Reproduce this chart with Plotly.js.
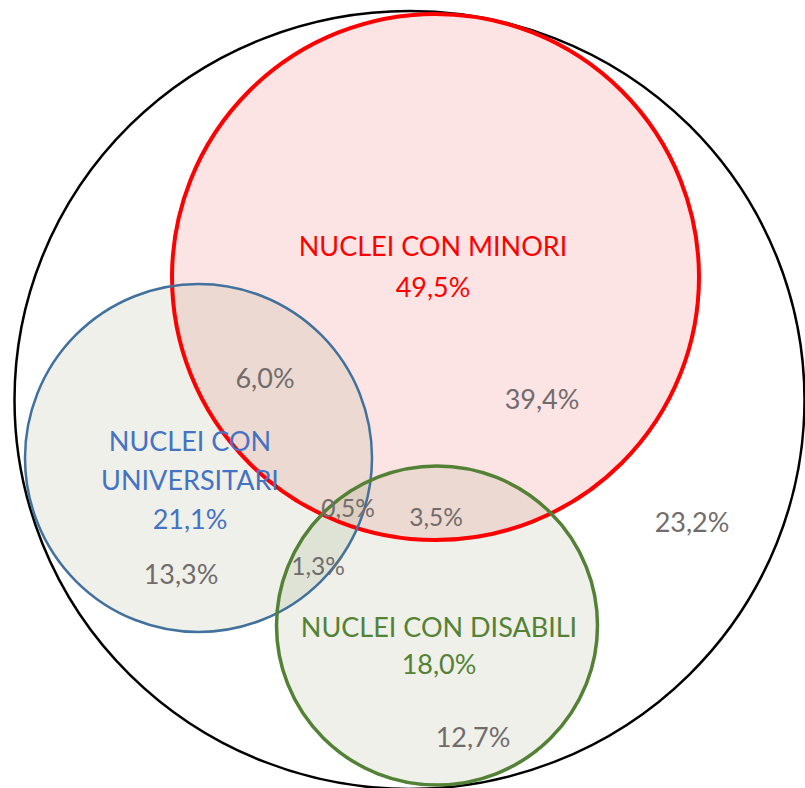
<!DOCTYPE html>
<html>
<head>
<meta charset="utf-8">
<script src="https://cdn.plot.ly/plotly-3.0.1.min.js"></script>
<style>html,body{margin:0;padding:0;background:#fff;}#chart{width:805px;height:788px;}</style>
</head>
<body>
<div id="chart"></div>
<script>
// ---- data ----
const setNames = ['NUCLEI CON MINORI', 'NUCLEI CON UNIVERSITARI', 'NUCLEI CON DISABILI'];
const setNameLines = [['NUCLEI CON MINORI'], ['NUCLEI CON', 'UNIVERSITARI'], ['NUCLEI CON DISABILI']];
const setTotals = [49.5, 21.1, 18.0];
const regionNames = ['solo minori', 'minori e universitari', 'minori, universitari e disabili',
  'minori e disabili', 'universitari e disabili', 'solo universitari', 'solo disabili', 'nessuno'];
const regionValues = [39.4, 6.0, 0.5, 3.5, 1.3, 13.3, 12.7, 23.2];

// ---- geometry (layout of the diagram, in pixel-like units) ----
const outerCircle = {cx: 409.5, cy: 400, rx: 395, ry: 389};
const setCircles = [
  {cx: 435.5, cy: 277, rx: 263.5, ry: 263},
  {cx: 198.5, cy: 458, rx: 173.5, ry: 174},
  {cx: 437, cy: 625.5, rx: 160.5, ry: 159.5}
];
const setLabelPos = [
  {x: 433, y: [249], ty: 290},
  {x: 190, y: [444, 483], ty: 522},
  {x: 439, y: [630], ty: 667}
];
const regionPos = [
  {x: 542, y: 402, s: 27}, {x: 265, y: 381, s: 27}, {x: 348, y: 511, s: 24.5},
  {x: 436, y: 520, s: 24.5}, {x: 318, y: 569, s: 24.5}, {x: 181, y: 577, s: 27},
  {x: 473, y: 740, s: 27}, {x: 692, y: 525, s: 27}
];
const setLineColors = ['#FF0000', '#41719C', '#538135'];
const setLineWidths = [4, 2.5, 3.5];
const setFills = ['#FDE4E4', 'rgba(140,155,108,0.15)', 'rgba(140,155,108,0.15)'];
const setTextColors = ['#FF0000', '#4472C4', '#548235'];
const grey = '#716C6C';
const FONT = 'Lato, "Open Sans", sans-serif';

const fmt = v => v.toFixed(1).replace('.', ',') + '%';

// ---- shapes ----
const shapes = [];
function ell(c, opts) {
  return Object.assign({type: 'circle', xref: 'x', yref: 'y',
    x0: c.cx - c.rx, x1: c.cx + c.rx, y0: c.cy - c.ry, y1: c.cy + c.ry, layer: 'below'}, opts);
}
shapes.push(ell(outerCircle, {fillcolor: '#FFFFFF', line: {width: 0}}));
setCircles.forEach((c, i) => shapes.push(ell(c, {fillcolor: setFills[i], line: {width: 0}})));
shapes.push(ell(outerCircle, {fillcolor: 'rgba(0,0,0,0)', line: {color: '#000000', width: 2.5}}));
setCircles.forEach((c, i) => shapes.push(ell(c, {fillcolor: 'rgba(0,0,0,0)', line: {color: setLineColors[i], width: setLineWidths[i]}})));

// ---- text traces ----
const traces = [];
setNameLines.forEach((lines, i) => {
  const xs = [], ys = [], ts = [];
  lines.forEach((l, k) => { xs.push(setLabelPos[i].x); ys.push(setLabelPos[i].y[k]); ts.push(l); });
  xs.push(setLabelPos[i].x); ys.push(setLabelPos[i].ty); ts.push(fmt(setTotals[i]));
  traces.push({type: 'scatter', mode: 'text', x: xs, y: ys, text: ts, name: setNames[i],
    textposition: 'middle center', hoverinfo: 'skip',
    textfont: {family: FONT, size: 27, color: setTextColors[i]}});
});
traces.push({type: 'scatter', mode: 'text', name: 'regioni',
  x: regionPos.map(p => p.x), y: regionPos.map(p => p.y),
  text: regionValues.map(fmt), customdata: regionNames,
  textposition: 'middle center', hoverinfo: 'skip',
  textfont: {family: FONT, size: regionPos.map(p => p.s), color: grey}});

const layout = {
  width: 805, height: 788,
  margin: {l: 0, r: 0, t: 0, b: 0},
  paper_bgcolor: '#FFFFFF', plot_bgcolor: '#FFFFFF',
  showlegend: false,
  xaxis: {range: [0, 805], visible: false, fixedrange: true},
  yaxis: {range: [788, 0], visible: false, fixedrange: true},
  shapes: shapes
};
Plotly.newPlot('chart', traces, layout, {staticPlot: true, displayModeBar: false});
</script>
</body>
</html>
